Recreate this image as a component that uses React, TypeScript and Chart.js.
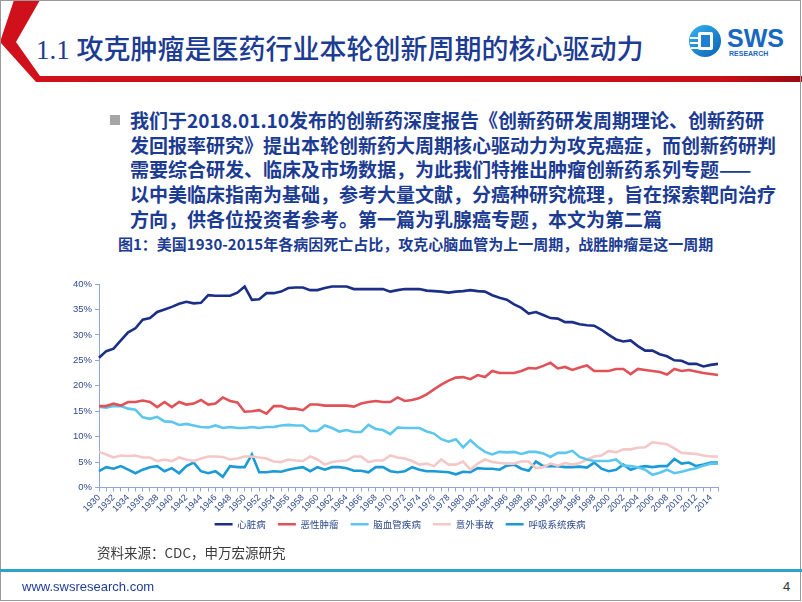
import React, { useEffect, useRef } from 'react';
import { Chart, registerables } from 'chart.js';

Chart.register(...registerables);

const years = [
  '1930','1931','1932','1933','1934','1935','1936','1937','1938','1939',
  '1940','1941','1942','1943','1944','1945','1946','1947','1948','1949',
  '1950','1951','1952','1953','1954','1955','1956','1957','1958','1959',
  '1960','1961','1962','1963','1964','1965','1966','1967','1968','1969',
  '1970','1971','1972','1973','1974','1975','1976','1977','1978','1979',
  '1980','1981','1982','1983','1984','1985','1986','1987','1988','1989',
  '1990','1991','1992','1993','1994','1995','1996','1997','1998','1999',
  '2000','2001','2002','2003','2004','2005','2006','2007','2008','2009',
  '2010','2011','2012','2013','2014','2015',
];

const heart = [
  25.5, 26.8, 27.3, 28.9, 30.5, 31.3, 33.0, 33.3, 34.5, 35.0,
  35.5, 36.1, 36.5, 36.2, 36.3, 37.8, 37.7, 37.7, 37.7, 38.3,
  39.5, 36.9, 37.0, 38.2, 38.2, 38.5, 39.2, 39.3, 39.3, 38.8,
  38.8, 39.2, 39.5, 39.5, 39.5, 39.0, 39.0, 39.0, 39.0, 39.0,
  38.5, 38.8, 39.0, 39.0, 39.0, 38.7, 38.6, 38.5, 38.3, 38.5,
  38.6, 38.8, 38.6, 38.5, 37.8, 37.3, 36.9, 36.0, 35.3, 34.2,
  34.5, 33.9, 33.3, 33.2, 32.5, 32.5, 32.1, 31.9, 31.8, 31.0,
  30.0, 29.1, 28.7, 28.9, 27.8, 26.9, 26.9, 26.2, 25.8, 25.0,
  24.9, 24.3, 24.3, 23.8, 24.1, 24.3,
];

const cancer = [
  16.0, 16.0, 16.5, 16.1, 16.8, 16.8, 17.1, 16.8, 15.8, 16.8,
  15.8, 16.8, 16.3, 16.5, 17.2, 16.3, 16.5, 17.7, 17.0, 16.7,
  14.9, 15.0, 15.2, 14.5, 16.0, 16.0, 15.5, 15.5, 15.2, 16.3,
  16.3, 16.1, 16.1, 16.1, 16.1, 15.9, 16.5, 16.8, 17.0, 16.8,
  16.8, 17.7, 17.0, 17.2, 17.6, 18.3, 19.3, 20.2, 21.0, 21.6,
  21.7, 21.3, 22.1, 21.7, 22.9, 22.5, 22.5, 22.5, 22.9, 23.5,
  23.4, 23.9, 24.5, 23.4, 23.7, 23.1, 23.6, 24.0, 22.9, 22.9,
  22.9, 23.3, 23.3, 22.3, 23.3, 23.1, 22.9, 22.7, 22.2, 23.3,
  22.9, 23.1, 22.8, 22.5, 22.3, 22.1,
];

const cerebro = [
  15.9, 15.7, 16.0, 16.0, 15.5, 15.3, 13.8, 13.5, 13.9, 13.0,
  12.9, 12.3, 12.5, 12.2, 11.9, 11.8, 12.2, 11.7, 11.9, 11.7,
  11.7, 11.9, 11.7, 11.9, 11.9, 12.2, 12.3, 12.2, 12.2, 11.1,
  11.1, 12.2, 11.7, 11.0, 11.3, 10.9, 10.9, 12.3, 11.5, 11.3,
  10.5, 11.8, 11.7, 11.7, 11.7, 11.0, 10.6, 9.5, 9.0, 9.5,
  7.9, 9.3, 8.0, 7.0, 6.5, 7.0, 6.9, 7.0, 6.6, 7.0,
  7.0, 6.7, 6.0, 6.8, 6.8, 7.2, 6.0, 5.5, 5.2, 5.2,
  5.2, 5.5, 4.3, 4.2, 4.0, 3.5, 2.5, 2.9, 3.5, 2.8,
  3.1, 3.5, 3.8, 4.3, 4.7, 4.7,
];

const accident = [
  7.0, 6.5, 5.9, 6.3, 6.2, 6.3, 5.9, 5.9, 5.2, 5.5,
  5.2, 5.9, 5.5, 5.2, 5.7, 6.1, 6.1, 6.0, 5.5, 5.7,
  6.1, 6.1, 5.9, 5.7, 5.1, 5.0, 5.5, 5.3, 5.2, 6.1,
  5.5, 4.5, 5.0, 5.2, 5.3, 6.1, 6.1, 5.0, 5.3, 5.3,
  6.3, 5.9, 5.7, 5.2, 4.5, 4.7, 4.2, 5.5, 4.5, 4.5,
  5.1, 3.5, 4.7, 5.5, 5.0, 4.8, 4.7, 4.7, 5.1, 5.1,
  3.8, 4.0, 4.7, 4.3, 4.8, 4.5, 4.8, 5.5, 6.1, 6.3,
  7.2, 6.9, 7.5, 7.5, 7.8, 7.9, 8.9, 8.7, 8.5, 7.7,
  6.8, 6.7, 6.6, 6.3, 6.1, 6.1,
];

const respiratory = [
  3.2, 4.0, 3.7, 4.2, 3.5, 2.8, 3.5, 4.0, 4.2, 3.2,
  3.8, 2.8, 4.2, 4.9, 3.2, 2.8, 3.2, 2.1, 4.2, 4.0,
  4.0, 6.5, 3.0, 3.0, 3.2, 3.1, 3.5, 3.8, 4.0, 3.2,
  4.0, 3.5, 4.0, 4.0, 3.8, 3.3, 3.3, 3.0, 4.0, 4.0,
  3.2, 3.0, 3.2, 4.0, 3.5, 3.2, 3.2, 3.1, 3.0, 2.6,
  3.1, 3.0, 3.8, 3.7, 3.7, 3.5, 4.3, 4.5, 3.7, 3.3,
  5.1, 4.2, 4.2, 4.2, 4.0, 4.0, 4.1, 3.9, 4.9, 3.7,
  3.2, 3.5, 4.5, 3.5, 4.0, 4.2, 4.0, 4.2, 4.2, 5.6,
  4.7, 4.9, 4.2, 4.5, 4.9, 4.9,
];

const seriesNames = ['心脏病', '恶性肿瘤', '脑血管疾病', '意外事故', '呼吸系统疾病'];
const seriesColors = ['#1b2f86', '#e05257', '#5cc6ee', '#f5c8c8', '#1b9ad6'];

const titleText = '1.1 攻克肿瘤是医药行业本轮创新周期的核心驱动力';
const bodyLines = [
  '我们于2018.01.10发布的创新药深度报告《创新药研发周期理论、创新药研',
  '发回报率研究》提出本轮创新药大周期核心驱动力为攻克癌症，而创新药研判',
  '需要综合研发、临床及市场数据，为此我们特推出肿瘤创新药系列专题——',
  '以中美临床指南为基础，参考大量文献，分癌种研究梳理，旨在探索靶向治疗',
  '方向，供各位投资者参考。第一篇为乳腺癌专题，本文为第二篇',
];
const captionText = '图1：美国1930-2015年各病因死亡占比，攻克心脑血管为上一周期，战胜肿瘤是这一周期';
const sourceText = '资料来源：CDC，申万宏源研究';

const CJK = "'Noto Sans CJK SC', 'Liberation Sans', sans-serif";
const SANS = "'Liberation Sans', 'Noto Sans CJK SC', sans-serif";
const BLUE = '#1c3b93';
const AXIS = '#8fa6d6';
const TICK = '#2d4a8a';

const legendShift = {
  id: 'legendShift',
  afterLayout(chart: any) {
    const l = chart.legend;
    if (l) {
      l.top -= 10;
      l.bottom -= 10;
      l.left += 21;
      l.right += 21;
    }
  },
};

function ChartBox() {
  const ref = useRef<HTMLCanvasElement>(null);
  useEffect(() => {
    const all = [heart, cancer, cerebro, accident, respiratory];
    const chart = new Chart(ref.current as HTMLCanvasElement, {
      type: 'line',
      data: {
        labels: years,
        datasets: all.map((d, i) => ({
          label: seriesNames[i],
          data: d,
          borderColor: seriesColors[i],
          backgroundColor: seriesColors[i],
          borderWidth: 2.6,
          pointRadius: 0,
          tension: 0,
          fill: false,
        })),
      },
      plugins: [legendShift],
      options: {
        responsive: false,
        animation: false,
        layout: { padding: { top: 14, right: 42, left: 0, bottom: 0 } },
        plugins: {
          tooltip: { enabled: false },
          legend: {
            position: 'bottom',
            labels: {
              usePointStyle: true,
              pointStyle: 'line',
              pointStyleWidth: 18,
              boxHeight: 10,
              padding: 12,
              color: TICK,
              font: { size: 9.5, family: CJK },
            },
          },
        },
        scales: {
          x: {
            type: 'category',
            offset: false,
            afterFit: (s: any) => { s.height = 30; },
            grid: { drawOnChartArea: false, drawTicks: true, tickLength: 4, color: AXIS },
            border: { color: AXIS, width: 1 },
            ticks: {
              autoSkip: false,
              minRotation: 45,
              maxRotation: 45,
              padding: 1,
              color: TICK,
              font: { size: 9, family: SANS },
              callback: (_v: any, i: number) => (i % 2 === 0 ? years[i] : ''),
            },
          },
          y: {
            min: 0,
            max: 40,
            afterFit: (s: any) => { s.width = 59; },
            grid: { drawOnChartArea: false, drawTicks: true, tickLength: 4, color: AXIS },
            border: { color: AXIS, width: 1 },
            ticks: {
              stepSize: 5,
              padding: 3,
              color: TICK,
              font: { size: 9.5, family: SANS },
              callback: (v: any) => v + '%',
            },
          },
        },
      },
    });
    return () => chart.destroy();
  }, []);
  return <canvas ref={ref} width={720} height={279} style={{ width: 720, height: 279, display: 'block' }} />;
}

function Logo() {
  return (
    <div style={{ position: 'absolute', left: 688, top: 24, width: 110, height: 36 }}>
      <svg width={36} height={36} style={{ position: 'absolute', left: 0, top: 0 }}>
        <defs>
          <linearGradient id="lg1" x1="0" y1="0" x2="1" y2="1">
            <stop offset="0" stopColor="#35b6f0" />
            <stop offset="1" stopColor="#0b5fb5" />
          </linearGradient>
        </defs>
        <circle cx={17} cy={17} r={16} fill="url(#lg1)" />
        <rect x={10} y={8} width={15} height={18} rx={2} fill="#ffffff" />
        <rect x={13} y={11} width={9} height={12} fill="#1f7fd0" />
        <rect x={2} y={13} width={8} height={2} fill="#ffffff" />
        <rect x={2} y={18} width={8} height={2} fill="#ffffff" />
        <rect x={3} y={23} width={7} height={2} fill="#ffffff" />
      </svg>
      <div style={{ position: 'absolute', left: 39, top: 0, fontFamily: SANS, fontWeight: 700, fontSize: 25, color: '#1668c0', lineHeight: '28px' }}>SWS</div>
      <div style={{ position: 'absolute', left: 41, top: 26, fontFamily: SANS, fontWeight: 700, fontSize: 7, color: '#1668c0', lineHeight: '8px' }}>RESEARCH</div>
    </div>
  );
}

export default function App() {
  return (
    <div style={{ position: 'fixed', left: 0, top: 0, width: 802, height: 602, background: '#ffffff', overflow: 'hidden' }}>
      <svg width={802} height={602} style={{ position: 'absolute', left: 0, top: 0 }}>
        <defs>
          <linearGradient id="redbar" x1="0" y1="0" x2="1" y2="0">
            <stop offset="0" stopColor="#d0111b" />
            <stop offset="0.9" stopColor="#c90f18" />
            <stop offset="1" stopColor="#9a0a10" />
          </linearGradient>
        </defs>
        <polygon points="14,0 40,0 16,42 40,76 802,76 802,82 36,82 0,42" fill="url(#redbar)" />
        <rect x={0.5} y={0.5} width={800} height={600} fill="none" stroke="#9a9a9a" strokeWidth={1} />
        <rect x={0} y={569} width={802} height={3} fill="#2ba3cf" />
        <rect x={110} y={115} width={10} height={10} fill="#a6a6a6" />
      </svg>
      <div style={{ position: 'absolute', left: 36, top: 32, fontFamily: "'Liberation Serif', 'Noto Sans CJK SC', serif", fontSize: 27, lineHeight: '36px', color: BLUE, whiteSpace: 'nowrap', fontWeight: 500 }}>
        {titleText}
      </div>
      <Logo />
      {bodyLines.map((t, i) => (
        <div key={i} style={{ position: 'absolute', left: 130, top: 107 + i * 24.7, fontFamily: CJK, fontWeight: 700, fontSize: 19, lineHeight: '25px', color: BLUE, whiteSpace: 'nowrap' }}>
          {t}
        </div>
      ))}
      <div style={{ position: 'absolute', left: 118, top: 234, fontFamily: CJK, fontWeight: 700, fontSize: 15, lineHeight: '20px', color: BLUE, whiteSpace: 'nowrap' }}>
        {captionText}
      </div>
      <div style={{ position: 'absolute', left: 40, top: 270 }}>
        <ChartBox />
      </div>
      <div style={{ position: 'absolute', left: 97, top: 543, fontFamily: CJK, fontSize: 13.5, lineHeight: '18px', color: '#3a3a3a', whiteSpace: 'nowrap' }}>
        {sourceText}
      </div>
      <div style={{ position: 'absolute', left: 22, top: 579, fontFamily: SANS, fontSize: 13, lineHeight: '16px', color: '#1f3f95', whiteSpace: 'nowrap' }}>
        www.swsresearch.com
      </div>
      <div style={{ position: 'absolute', left: 783, top: 579, fontFamily: SANS, fontSize: 13, lineHeight: '16px', color: '#333333' }}>
        4
      </div>
    </div>
  );
}
